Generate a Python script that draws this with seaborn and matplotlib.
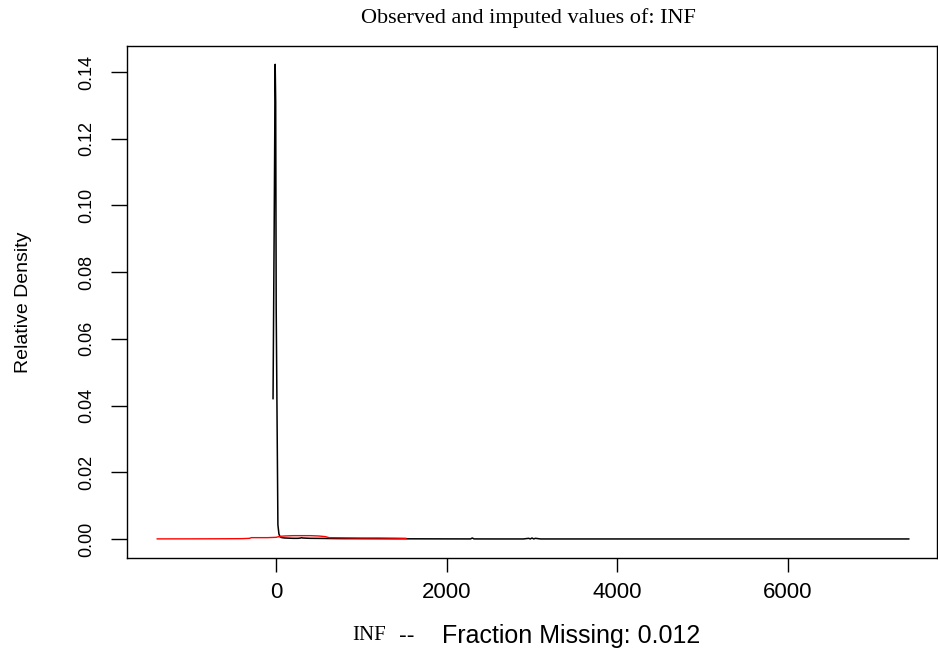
import numpy as np
import pandas as pd
import matplotlib
matplotlib.use('Agg')
import matplotlib.pyplot as plt
import seaborn as sns

# observed density (black)
obs_x = [-35, -22, -10, -4, 2, 22, 34, 48, 70, 100, 150, 200, 260, 290, 300, 310,
         350, 400, 500, 600, 700, 800, 900, 1000, 1200, 1400, 1600, 1800, 2000,
         2280, 2300, 2320, 2600, 2900, 2960, 2980, 3000, 3020, 3040, 3100, 3500,
         4000, 5000, 6000, 7000, 7418]
obs_y = [0.042, 0.092, 0.1423, 0.131, 0.069, 0.0042, 0.0015, 0.0006, 0.0004, 0.0003,
         0.00025, 0.0002, 0.0002, 0.0003, 0.0004, 0.0003, 0.00025, 0.0002, 0.00018,
         0.00015, 0.00012, 0.0001, 0.0001, 0.00009, 0.00008, 0.00006, 0.00005,
         0.00004, 0.00003, 0.00002, 0.0003, 0.00002, 0.00001, 0.00001, 0.0002,
         0.00001, 0.0003, 0.00001, 0.0002, 0.00001, 0.00001, 0.00001, 0.00001,
         0.00001, 0.00001, 0.00001]

# imputed density (red)
imp_x = [-1395, -1000, -700, -400, -310, -290, -100, 0, 50, 100, 200, 300, 400,
         500, 580, 620, 800, 1000, 1200, 1400, 1525]
imp_y = [0.00003, 0.00004, 0.00006, 0.0001, 0.0002, 0.0004, 0.0004, 0.0005, 0.0008,
         0.0009, 0.001, 0.001, 0.001, 0.0009, 0.0007, 0.0004, 0.00035, 0.0003,
         0.0003, 0.00025, 0.0002]

x_ticks = [0, 2000, 4000, 6000]
y_ticks = [0.00, 0.02, 0.04, 0.06, 0.08, 0.10, 0.12, 0.14]

sns.set_theme(style='ticks')
plt.rcParams['font.family'] = ['Liberation Sans', 'DejaVu Sans']
plt.rcParams['text.color'] = 'black'
plt.rcParams['axes.labelcolor'] = 'black'
plt.rcParams['xtick.color'] = 'black'
plt.rcParams['ytick.color'] = 'black'

obs = pd.DataFrame({'x': obs_x, 'y': obs_y})
imp = pd.DataFrame({'x': imp_x, 'y': imp_y})

fig = plt.figure(figsize=(9.38, 6.5), dpi=100)
ax = fig.add_axes([126.7 / 938, 92 / 650, 810.3 / 938, 512 / 650])

sns.lineplot(data=obs, x='x', y='y', ax=ax, color='black', linewidth=1.1,
             sort=False, estimator=None)
sns.lineplot(data=imp, x='x', y='y', ax=ax, color='red', linewidth=1.0,
             sort=False, estimator=None)

ax.set_xlim(-1750, 7746)
ax.set_ylim(-0.0057, 0.1478)
ax.set_xticks(x_ticks)
ax.set_xticklabels([str(t) for t in x_ticks], fontsize=16)
ax.set_yticks(y_ticks)
ax.set_yticklabels(['%.2f' % t for t in y_ticks], fontsize=13, rotation=90,
                   va='center')
ax.tick_params(axis='x', length=10, width=1.0, pad=7, colors='black')
ax.tick_params(axis='y', length=11.5, width=1.0, pad=11, colors='black')
for s in ax.spines.values():
    s.set_visible(True)
    s.set_color('black')
    s.set_linewidth(1.0)

ax.set_xlabel('')
ax.set_ylabel('Relative Density', fontsize=14, color='black')
ax.yaxis.set_label_coords(-0.1168, 0.5)

fig.text(528 / 938, 1 - 18 / 650, 'Observed and imputed values of: INF',
         family='Liberation Serif', fontsize=16, ha='center', va='center')
fig.text(386 / 938, 1 - 636 / 650, 'INF', family='Liberation Serif',
         fontsize=15, ha='right', va='center')
fig.text(399 / 938, 1 - 636 / 650, '--', fontsize=17, ha='left', va='center')
fig.text(442 / 938, 1 - 636 / 650, 'Fraction Missing: 0.012',
         fontsize=18, ha='left', va='center')

fig.savefig('out.png', dpi=100)
